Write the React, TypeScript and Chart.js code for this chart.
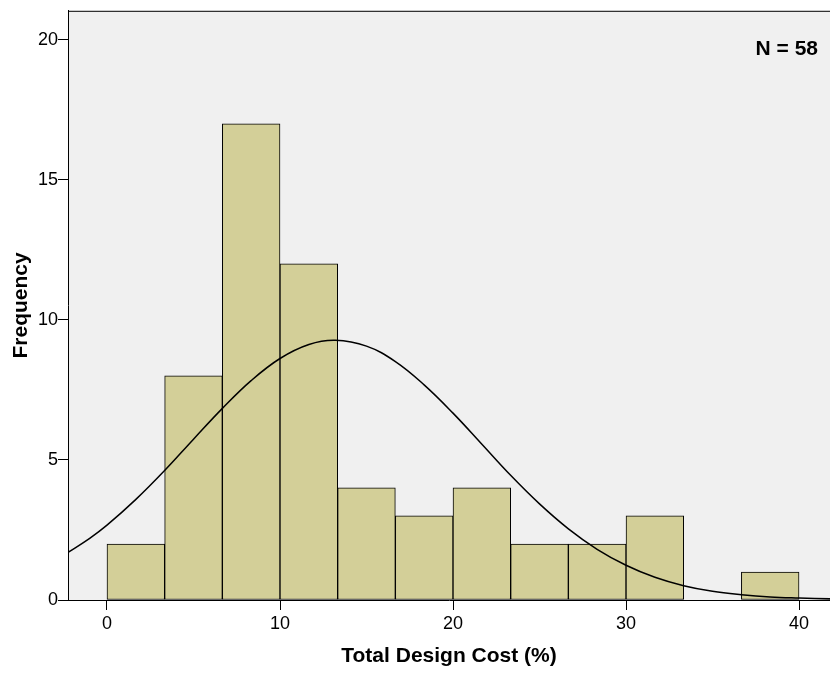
import React, { useEffect, useRef } from "react";
import { Chart, registerables } from "chart.js";

Chart.register(...registerables);

// Histogram bins (Total Design Cost, %) and their frequencies
const binEdges = [0, 3.333, 6.667, 10, 13.333, 16.667, 20, 23.333, 26.667, 30, 33.333, 36.667, 40];
const frequencies = [2, 8, 17, 12, 4, 3, 4, 2, 2, 3, 0, 1];

// Fitted normal curve
const curveX = [-2.25, -1, 0, 1.67, 3.33, 5, 6.67, 8.33, 10, 11.67, 13.2, 15, 16.67, 18.33, 20, 21.67, 23.33, 25, 26.67, 28.33, 30, 31.67, 33.33, 35, 36.67, 38.33, 40, 41.8];
const curveY = [1.7, 2.2, 2.67, 3.59, 4.62, 5.74, 6.84, 7.83, 8.62, 9.12, 9.27, 9.06, 8.51, 7.68, 6.67, 5.56, 4.45, 3.43, 2.54, 1.81, 1.24, 0.81, 0.51, 0.31, 0.19, 0.11, 0.07, 0.04];

const xTicks = [0, 10, 20, 30, 40];
const yTicks = [0, 5, 10, 15, 20];
const sampleLabel = "N = 58";
const xTitle = "Total Design Cost (%)";
const yTitle = "Frequency";

const FONT = "'Liberation Sans', Arial, Helvetica, sans-serif";

export default function App() {
  const canvasRef = useRef<HTMLCanvasElement | null>(null);

  useEffect(() => {
    document.body.style.margin = "0";
    const canvas = canvasRef.current;
    if (!canvas) return;

    const barData = frequencies.map((f, i) => ({
      x: (binEdges[i] + binEdges[i + 1]) / 2,
      y: f === 0 ? null : f,
    }));
    const curveData = curveX.map((x, i) => ({ x, y: curveY[i] }));

    const plotDecor = {
      id: "plotDecor",
      beforeDraw(chart: any) {
        const { ctx, chartArea } = chart;
        ctx.save();
        ctx.fillStyle = "#f0f0f0";
        ctx.fillRect(chartArea.left, chartArea.top, chartArea.right - chartArea.left, chartArea.bottom - chartArea.top);
        ctx.restore();
      },
      afterDraw(chart: any) {
        const { ctx, chartArea } = chart;
        ctx.save();
        ctx.strokeStyle = "#000";
        ctx.lineWidth = 1;
        ctx.beginPath();
        ctx.moveTo(chartArea.left, chartArea.top + 0.5);
        ctx.lineTo(chartArea.right, chartArea.top + 0.5);
        ctx.stroke();
        ctx.fillStyle = "#000";
        ctx.font = `bold 21px ${FONT}`;
        ctx.textAlign = "right";
        ctx.textBaseline = "middle";
        ctx.fillText(sampleLabel, chartArea.right - 12, chartArea.top + 38);
        ctx.restore();
      },
    };

    const chart = new Chart(canvas, {
      type: "bar",
      data: {
        datasets: [
          {
            type: "line",
            data: curveData,
            borderColor: "#000",
            borderWidth: 1.5,
            pointRadius: 0,
            tension: 0.4,
            fill: false,
            order: 0,
          } as any,
          {
            type: "bar",
            data: barData,
            backgroundColor: "#d3cf98",
            borderColor: "#000",
            borderWidth: 1,
            borderSkipped: false,
            barPercentage: 1,
            categoryPercentage: 1,
            order: 1,
          } as any,
        ],
      },
      options: {
        responsive: false,
        animation: false,
        events: [],
        layout: { padding: { top: 10, right: 0, left: 0, bottom: 0 } },
        plugins: { legend: { display: false }, tooltip: { enabled: false }, title: { display: false } },
        scales: {
          x: {
            type: "linear",
            min: -2.254,
            max: 41.79,
            offset: false,
            afterBuildTicks: (scale: any) => {
              scale.ticks = xTicks.map((v) => ({ value: v }));
            },
            afterFit: (scale: any) => {
              scale.height = 75;
            },
            grid: {
              display: true,
              drawOnChartArea: false,
              drawTicks: true,
              tickLength: 10,
              tickColor: "#000",
              tickWidth: 1,
              offset: false,
            },
            border: { display: true, color: "#000", width: 1 },
            ticks: {
              color: "#000",
              font: { family: FONT, size: 18 },
              padding: 3,
              maxRotation: 0,
              autoSkip: false,
              callback: (v: any) => String(v),
            },
            title: {
              display: true,
              text: xTitle,
              color: "#000",
              font: { family: FONT, size: 21, weight: "bold" },
              padding: { top: 0, bottom: 6 },
            },
          },
          y: {
            type: "linear",
            min: 0,
            max: 21.03,
            afterBuildTicks: (scale: any) => {
              scale.ticks = yTicks.map((v) => ({ value: v }));
            },
            afterFit: (scale: any) => {
              scale.width = 68;
            },
            grid: {
              display: true,
              drawOnChartArea: false,
              drawTicks: true,
              tickLength: 10,
              tickColor: "#000",
              tickWidth: 1,
            },
            border: { display: true, color: "#000", width: 1 },
            ticks: {
              color: "#000",
              font: { family: FONT, size: 18 },
              padding: 0,
              autoSkip: false,
              callback: (v: any) => String(v),
            },
            title: {
              display: true,
              text: yTitle,
              color: "#000",
              font: { family: FONT, size: 21, weight: "bold" },
              padding: { top: 9, bottom: 0 },
            },
          },
        },
      },
      plugins: [plotDecor],
    } as any);

    return () => chart.destroy();
  }, []);

  return (
    <div style={{ width: 830, height: 675, background: "#fff" }}>
      <canvas ref={canvasRef} width={830} height={675} style={{ display: "block" }} />
    </div>
  );
}
